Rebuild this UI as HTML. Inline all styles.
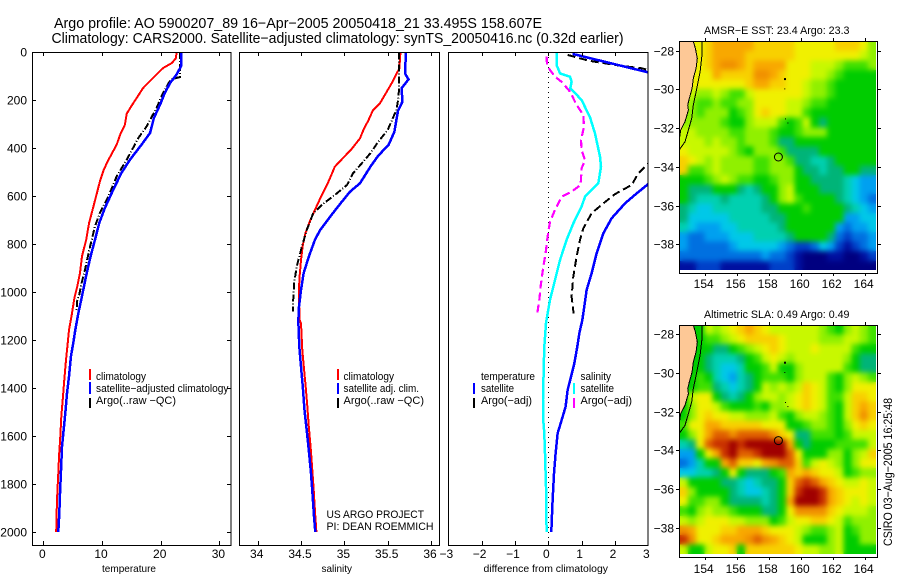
<!DOCTYPE html>
<html lang="en">
<head>
<meta charset="utf-8">
<title>Argo profile AO 5900207_89</title>
<style>
html,body{margin:0;padding:0;background:#fff;width:900px;height:580px;overflow:hidden}
svg{display:block}
text{font-family:"Liberation Sans",sans-serif;fill:#000}
.t12{font-size:12px}.t11{font-size:11px}.t10{font-size:10.5px}.t14{font-size:14.5px}
</style>
</head>
<body>
<svg id="chart" xmlns="http://www.w3.org/2000/svg" width="900" height="580" viewBox="0 0 900 580">
<defs>
<clipPath id="clip-diff"><rect x="448" y="52" width="200" height="494"/></clipPath>
<clipPath id="clip-map1"><rect x="679.5" y="41.5" width="198" height="232"/></clipPath>
<clipPath id="clip-map2"><rect x="679.5" y="325.5" width="198" height="232"/></clipPath>
<clipPath id="clip-cells1"><rect x="679.5" y="41.5" width="196.5" height="228.5"/></clipPath>
<clipPath id="clip-cells2"><rect x="679.5" y="325.5" width="196.5" height="228.5"/></clipPath>
<filter id="soften-cells" x="-5%" y="-5%" width="110%" height="110%" color-interpolation-filters="sRGB">
<feGaussianBlur in="SourceGraphic" stdDeviation="2.6" result="blurred"/>
<feMerge><feMergeNode in="SourceGraphic"/><feMergeNode in="blurred"/></feMerge>
</filter>
</defs>
<text class="t14" x="54" y="28" textLength="488" lengthAdjust="spacingAndGlyphs">Argo profile: AO 5900207_89 16−Apr−2005 20050418_21 33.495S 158.607E</text>
<text class="t14" x="51.5" y="43" textLength="572" lengthAdjust="spacingAndGlyphs">Climatology: CARS2000. Satellite−adjusted climatology: synTS_20050416.nc (0.32d earlier)</text>

<g id="panel-temp"></g>
<g id="panel-sal"></g>
<g id="panel-diff"></g>
<g id="map-sst"></g>
<g id="map-sla"></g>

<text class="t10" x="102" y="572" textLength="54" lengthAdjust="spacingAndGlyphs">temperature</text>
<text class="t10" x="321.5" y="572" textLength="30.5" lengthAdjust="spacingAndGlyphs">salinity</text>
<text class="t10" x="483.5" y="572" textLength="124.5" lengthAdjust="spacingAndGlyphs">difference from climatology</text>

<g>
<rect x="89" y="369" width="2" height="11" fill="#ff0000"/>
<rect x="89" y="382" width="2" height="12" fill="#0000ff"/>
<rect x="89" y="398" width="2" height="10" fill="#000"/>
<text class="t11" x="96" y="380" textLength="50" lengthAdjust="spacingAndGlyphs">climatology</text>
<text class="t11" x="96" y="392" textLength="132.5" lengthAdjust="spacingAndGlyphs">satellite−adjusted climatology</text>
<text class="t11" x="96" y="404" textLength="80" lengthAdjust="spacingAndGlyphs">Argo(..raw −QC)</text>
</g>

<g>
<rect x="337" y="369" width="2" height="11" fill="#ff0000"/>
<rect x="337" y="383" width="2" height="11" fill="#0000ff"/>
<rect x="337" y="398" width="2" height="10" fill="#000"/>
<text class="t11" x="343.5" y="380" textLength="50.5" lengthAdjust="spacingAndGlyphs">climatology</text>
<text class="t11" x="343.5" y="392" textLength="75.5" lengthAdjust="spacingAndGlyphs">satellite adj. clim.</text>
<text class="t11" x="343.5" y="404" textLength="80.5" lengthAdjust="spacingAndGlyphs">Argo(..raw −QC)</text>
<text class="t11" x="326.5" y="518" textLength="97.5" lengthAdjust="spacingAndGlyphs">US ARGO PROJECT</text>
<text class="t11" x="326.5" y="530" textLength="107" lengthAdjust="spacingAndGlyphs">PI: DEAN ROEMMICH</text>
</g>

<g>
<rect x="473" y="383" width="2" height="11" fill="#0000ff"/>
<rect x="473" y="398" width="2" height="10" fill="#000"/>
<rect x="573" y="383" width="2" height="11" fill="#00ffff"/>
<rect x="573" y="398" width="2" height="10" fill="#ff00ff"/>
<text class="t11" x="481" y="380" textLength="54" lengthAdjust="spacingAndGlyphs">temperature</text>
<text class="t11" x="481" y="392" textLength="33" lengthAdjust="spacingAndGlyphs">satellite</text>
<text class="t11" x="481" y="404" textLength="51" lengthAdjust="spacingAndGlyphs">Argo(−adj)</text>
<text class="t11" x="580.5" y="380" textLength="30.5" lengthAdjust="spacingAndGlyphs">salinity</text>
<text class="t11" x="580.5" y="392" textLength="33.5" lengthAdjust="spacingAndGlyphs">satellite</text>
<text class="t11" x="580.5" y="404" textLength="51.5" lengthAdjust="spacingAndGlyphs">Argo(−adj)</text>
</g>

<text class="t11" x="704" y="34" textLength="145.5" lengthAdjust="spacingAndGlyphs">AMSR−E SST: 23.4 Argo: 23.3</text>
<text class="t11" x="704" y="318" textLength="145.5" lengthAdjust="spacingAndGlyphs">Altimetric SLA: 0.49 Argo: 0.49</text>
<text class="t12" transform="translate(892,546) rotate(-90)" textLength="148" lengthAdjust="spacingAndGlyphs">CSIRO 03−Aug−2005 16:25:48</text>
</svg>

<script>
/* ---------- profile data: depth (m) and value ---------- */
const depthTicks = [0, 200, 400, 600, 800, 1000, 1200, 1400, 1600, 1800, 2000];
const tempTicks = [0, 10, 20, 30];
const salTicks = [34, 34.5, 35, 35.5, 36];
const salTickLabels = ['34', '34.5', '35', '35.5', '36'];
const diffTicks = [-3, -2, -1, 0, 1, 2, 3];
const diffTickLabels = ['−3', '−2', '−1', '0', '1', '2', '3'];

const tempClimDepth = [0,25,46,67,108,150,192,226,257,303,344,386,449,490,539,601,657,712,782,851,921,976,1025,1096,1158,1214,1283,1366,1450,1519,1602,1686,1755,1839,1922,2000];
const tempClimValue = [22.7,22.6,21.9,20.4,18.7,17.0,15.9,15.0,14.2,13.9,13.1,12.5,11.1,10.3,9.65,9.0,8.4,7.8,7.3,6.6,6.25,5.8,5.3,4.83,4.37,4.15,3.86,3.58,3.3,3.07,2.9,2.67,2.56,2.39,2.27,2.2];

const tempSatDepth = [0,60,94,129,171,219,275,337,386,449,504,574,650,712,782,851,935,1025,1089,1158,1214,1269,1352,1422,1505,1589,1644,1755,1839,1922,2000];
const tempSatValue = [23.45,23.45,22.7,21.6,20.7,19.9,18.85,18.2,16.75,14.76,13.3,11.9,10.5,9.54,8.8,8.06,7.27,6.53,5.96,5.45,5.1,4.7,4.37,4.03,3.75,3.4,3.18,3.0,2.84,2.73,2.56];

const tempArgoDepth = [0,60,104,115,171,233,310,358,449,518,601,671,726,824,907,963,1011,1033,1075];
const tempArgoValue = [23.3,23.3,23.3,21.7,20.4,19.3,17.6,16.2,14.2,12.5,11.1,9.65,8.8,7.84,7.1,6.53,6.13,5.8,5.68];

const salClimDepth = [3,68,130,165,214,242,283,325,360,406,447,478,512,554,596,658,707,756,804,867,950,1033,1117,1131,1242,1325,1395,1464,1561,1645,1742,1825,1909,2000];
const salClimValue = [35.646,35.635,35.546,35.49,35.41,35.33,35.28,35.22,35.18,35.08,34.97,34.89,34.85,34.8,34.74,34.66,34.6,34.55,34.52,34.5,34.48,34.477,34.485,34.5,34.515,34.535,34.554,34.57,34.59,34.61,34.63,34.646,34.66,34.677];

const salSatDepth = [3,89,114,151,207,244,283,332,387,432,478,547,582,624,679,742,783,853,922,992,1061,1114,1131,1228,1311,1395,1492,1575,1659,1756,1853,1936,2000];
const salSatValue = [35.71,35.7,35.74,35.66,35.67,35.62,35.6,35.577,35.51,35.39,35.3,35.18,35.065,34.97,34.85,34.72,34.66,34.59,34.53,34.5,34.477,34.47,34.47,34.48,34.5,34.52,34.54,34.565,34.59,34.615,34.635,34.65,34.665];

const salArgoDepth = [3,158,200,242,283,325,374,422,464,506,554,596,631,672,742,811,894,964,1033,1082];
const salArgoValue = [35.63,35.63,35.62,35.6,35.55,35.5,35.39,35.3,35.2,35.1,35.03,34.89,34.76,34.64,34.565,34.51,34.45,34.42,34.41,34.41];

const diffSalSatDepth = [3,54,89,103,124,151,200,272,339,436,478,547,603,644,714,783,867,950,1033,1114,1131,1228,1339,1450,1520,1589,1673,1811,2000];
const diffSalSatValue = [0.26,0.25,0.35,0.65,0.7,0.66,1.0,1.25,1.4,1.55,1.58,1.5,1.1,1.0,0.75,0.55,0.35,0.2,0.05,-0.05,-0.07,-0.12,-0.14,-0.16,-0.16,-0.12,-0.1,-0.07,-0.05];

const diffTempSatDepth = [8,85,150,300,450,550,589,631,693,756,839,922,992,1061,1117,1173,1228,1298,1353,1409,1478,1534,1589,1673,1756,1867,2000];
const diffTempSatValue = [0.73,3.0,4.2,4.8,4.2,3.0,2.65,2.3,1.9,1.65,1.45,1.3,1.15,1.08,1.02,0.93,0.87,0.78,0.68,0.58,0.52,0.4,0.28,0.22,0.17,0.13,0.09];

const diffTempArgoDepth = [12,36,54,68,75,150,300,475,506,554,592,631,672,735,783,853,936,1019,1089];
const diffTempArgoValue = [0.58,1.2,2.0,2.8,3.0,3.9,4.2,2.92,2.7,2.5,2.0,1.65,1.3,1.05,0.95,0.85,0.75,0.7,0.76];

const diffSalArgoDepth = [19,54,75,103,124,165,221,262,311,367,408,450,485,554,582,603,658,707,769,839,894,964,1033,1089];
const diffSalArgoValue = [-0.05,-0.04,0.05,0.2,0.4,0.65,0.85,1.05,1.07,0.98,1.0,1.1,1.0,0.97,0.7,0.4,0.2,0.05,-0.02,-0.08,-0.15,-0.22,-0.27,-0.33];

/* ---------- map data ---------- */
const mapLonTicks = [154, 156, 158, 160, 162, 164];
const sstLatTicks = [-28, -30, -32, -34, -36, -38];
const slaLatTicks = [-28, -30, -32, -34, -36, -38];
const coastLon = [153.29,153.42,153.54,153.46,153.29,153.21,153.04,152.94,152.98,152.77,152.5,152.44];
const coastLat = [-27.52,-27.88,-28.4,-28.91,-29.43,-29.95,-30.47,-30.81,-31.07,-31.67,-32.1,-32.45];
const isobathLon = [153.83,153.83,153.71,153.46,153.29,153.19,152.98,152.77,152.44];
const isobathLat = [-27.52,-28.22,-29.09,-30.12,-30.81,-31.5,-32.1,-32.71,-33.09];
const islandLon = [159.02,159.04,159.08,159.23];
const islandLat = [-29.47,-30.0,-31.55,-31.76];
const floatLon = [158.607];
const floatLat = [-33.495];

/* colour level per half-degree-ish cell, north to south */
const sstGrid = [
[12,12,12,13,14,14,14,14,14,13,13,13,13,13,12,12,12,12,12,13,13,13,12,10],
[12,12,12,13,14,14,14,14,13,13,13,13,13,13,12,12,12,12,12,12,12,12,11,10],
[12,12,12,13,14,15,15,14,13,14,14,14,14,12,12,12,11,11,11,10,9,9,9,10],
[12,12,12,12,14,13,13,13,13,15,15,14,13,12,12,12,11,11,10,9,8,8,8,8],
[12,12,12,12,12,12,12,12,13,14,14,13,13,12,12,11,10,10,9,8,8,8,8,8],
[11,11,10,10,11,10,9,9,11,12,12,12,12,12,12,11,10,10,9,8,8,8,8,8],
[11,10,9,9,10,9,9,10,10,12,12,12,12,11,11,10,9,9,8,8,8,8,8,8],
[10,10,9,10,10,10,8,9,10,12,13,12,12,11,11,9,8,8,8,8,8,8,8,8],
[10,10,10,10,10,9,8,8,10,11,11,11,9,8,9,11,8,7,8,8,8,8,8,8],
[11,11,10,10,10,10,9,9,10,10,10,9,8,8,9,10,10,10,8,8,8,8,8,8],
[11,11,11,10,11,10,10,9,10,10,10,9,7,7,8,8,8,8,8,8,8,8,8,8],
[12,11,11,11,11,11,10,9,8,10,10,10,9,7,7,7,7,8,8,8,8,8,8,8],
[13,12,11,10,11,10,10,10,10,9,9,10,10,9,7,7,6,6,7,8,8,8,8,8],
[13,9,9,10,11,10,10,10,10,9,9,10,10,10,8,7,7,6,7,7,8,8,7,7],
[8,8,8,9,10,11,10,9,9,8,8,9,10,10,8,8,7,7,7,7,6,5,4,4],
[8,7,7,7,8,8,8,7,6,7,8,8,10,11,8,8,8,7,7,7,6,5,4,4],
[8,7,6,6,6,7,6,6,6,6,7,8,10,11,9,8,8,8,8,7,6,5,4,3],
[7,6,5,5,6,6,6,6,6,6,7,7,8,8,8,9,8,8,8,8,7,6,5,4],
[7,5,5,5,5,5,6,6,6,6,6,7,7,8,8,8,8,8,8,8,4,4,5,5],
[6,5,4,4,4,5,5,6,6,6,6,6,7,8,8,8,8,8,8,4,3,4,4,5],
[4,3,3,4,4,4,5,5,5,6,6,6,6,7,8,8,8,8,7,3,2,3,3,4],
[4,3,3,3,3,3,4,5,5,5,5,5,4,3,2,2,3,5,4,2,1,2,3,4],
[3,3,3,3,3,3,3,3,3,3,4,3,3,2,1,0,0,0,1,1,0,0,1,2],
[1,1,2,2,2,1,1,1,1,1,1,2,2,2,1,0,0,0,0,0,0,0,0,0]
];
const slaGrid = [
[8,8,8,11,10,11,12,13,14,13,12,11,11,11,11,11,11,10,9,8,10,11,10,9],
[8,8,8,9,9,10,11,12,13,13,13,13,12,11,11,11,11,10,10,10,11,11,10,9],
[8,8,8,8,7,7,8,9,10,11,12,13,12,11,11,11,12,11,11,11,11,9,8,8],
[8,8,8,7,6,6,6,7,8,9,11,12,11,10,11,11,11,11,11,11,10,8,7,7],
[8,8,8,7,6,5,5,6,8,8,9,11,8,8,10,11,11,11,11,11,9,8,7,7],
[8,8,9,8,6,5,4,6,7,8,9,9,9,8,10,11,11,11,9,8,10,11,10,9],
[8,8,9,9,7,6,5,6,7,8,11,10,11,10,11,13,12,11,9,8,10,12,12,12],
[8,11,12,12,8,7,6,7,8,10,11,11,10,11,12,13,12,11,9,9,11,13,13,12],
[8,10,12,12,11,9,8,8,8,9,8,10,10,11,12,13,12,11,9,8,11,13,14,13],
[8,10,12,13,12,12,11,11,10,10,10,11,9,8,10,11,11,10,9,8,11,13,15,13],
[9,12,12,14,14,13,13,13,13,13,12,12,12,8,8,9,10,10,9,8,10,12,13,12],
[8,10,12,14,16,16,15,16,16,16,16,15,13,12,7,7,9,9,9,8,9,11,11,11],
[6,7,12,16,17,17,18,17,18,18,18,18,18,14,8,7,8,8,8,9,9,9,9,11],
[4,4,8,12,14,17,18,16,16,17,18,18,18,16,12,8,8,8,10,10,8,10,11,13],
[3,4,6,8,8,14,16,13,13,12,14,15,16,16,13,9,11,12,11,10,8,10,12,12],
[5,5,6,6,7,8,12,8,7,7,7,8,9,14,13,14,13,12,12,11,8,9,10,10],
[11,8,8,8,8,7,7,6,5,6,7,7,8,13,16,17,16,14,13,12,11,11,12,11],
[13,10,8,8,8,8,7,6,5,5,6,7,8,13,17,18,18,17,14,13,12,12,12,11],
[12,9,9,10,10,8,7,7,7,7,6,7,8,14,18,18,18,17,14,13,12,11,12,11],
[9,8,10,11,10,10,9,8,8,8,7,7,8,12,15,15,15,15,13,12,11,11,11,10],
[11,10,11,12,12,12,11,11,10,10,10,8,9,11,12,12,13,13,12,11,9,10,10,10],
[15,14,12,12,12,13,13,14,14,14,13,12,12,12,11,10,9,9,10,11,8,9,10,10],
[17,15,12,12,13,14,14,14,15,16,15,14,13,12,11,8,8,8,10,11,8,8,10,10],
[11,8,8,11,12,12,13,8,13,13,13,13,13,13,12,11,11,10,10,11,8,8,8,8]
];

/* ---------- axis functions ---------- */
const SVGNS = 'http://www.w3.org/2000/svg';
const depthToY = d => 52 + 0.24 * d;
const tempToX = t => 43.3 + 5.87 * t;
const salToX = s => 257.7 + 86.67 * (s - 34);
const diffToX = v => 548.3 + 33.33 * v;
const lonToX = lon => 704.7 + 16 * (lon - 154);
const sstLatToY = lat => 50.7 + 19.35 * (-28 - lat);
const slaLatToY = lat => 334.3 + 19.35 * (-28 - lat);

function make(parent, tag, attrs, text) {
  const el = document.createElementNS(SVGNS, tag);
  for (const k in attrs) el.setAttribute(k, attrs[k]);
  if (text !== undefined) el.textContent = text;
  parent.appendChild(el);
  return el;
}

function drawSeries(parent, name, xs, ds, xFn, color, width, dash, clip) {
  const pts = xs.map((v, i) => xFn(v).toFixed(1) + ',' + depthToY(ds[i]).toFixed(1)).join(' ');
  const el = make(parent, 'polyline', {points: pts, fill: 'none', stroke: color, 'stroke-width': width, 'shape-rendering': 'crispEdges'});
  
  
  if (dash) el.setAttribute('stroke-dasharray', dash);
  if (clip) el.setAttribute('clip-path', clip);
  return el;
}

function drawTick(parent, name, x1, y1, x2, y2) {
  const el = make(parent, 'line', {x1: x1, y1: y1, x2: x2, y2: y2, stroke: '#000', 'stroke-width': 1, 'shape-rendering': 'crispEdges'});
  
  
}

function drawLabel(parent, name, x, y, anchor, cls, str) {
  const el = make(parent, 'text', {x: x, y: y, 'text-anchor': anchor, 'class': cls}, str);
  
  
}

function drawFrame(parent, name, x, y, w, h) {
  const el = make(parent, 'rect', {x: x, y: y, width: w, height: h, fill: 'none', stroke: '#000', 'stroke-width': 1, 'shape-rendering': 'crispEdges'});
  
  
}

function drawXAxis(parent, ticks, labels, xFn, labelShift) {
  ticks.forEach((t, i) => {
    const x = Math.round(xFn(t)) + 0.5;
    if (x > parent.dataset.left && x < parent.dataset.right) {
      drawTick(parent, 'x-tick-top', x, 52, x, 56);
      drawTick(parent, 'x-tick-bottom', x, 541, x, 545);
    }
    drawLabel(parent, 'x-tick-label', xFn(t) + labelShift, 558, 'middle', 't12', labels[i]);
  });
}

/* ---------- temperature panel ---------- */
const panelTemp = document.getElementById('panel-temp');
panelTemp.dataset.left = 32;
panelTemp.dataset.right = 231;
drawSeries(panelTemp, 'temperature-climatology-line', tempClimValue, tempClimDepth, tempToX, '#ff0000', 2, null, null);
drawSeries(panelTemp, 'temperature-argo-line', tempArgoValue, tempArgoDepth, tempToX, '#000', 2, '7 2 1 2', null);
drawSeries(panelTemp, 'temperature-satellite-line', tempSatValue, tempSatDepth, tempToX, '#0000ff', 2.5, null, null);
drawFrame(panelTemp, 'temperature-plot-frame', 32.5, 52.5, 198.5, 493);
drawXAxis(panelTemp, tempTicks, tempTicks.map(String), tempToX, -1);
depthTicks.forEach(d => {
  const y = Math.round(depthToY(d)) + 0.5;
  if (d > 0) drawTick(panelTemp, 'y-tick-left', 32, y, 36, y);
  if (d > 0) drawTick(panelTemp, 'y-tick-right', 227, y, 231, y);
  drawLabel(panelTemp, 'y-tick-label', 27, y + 4, 'end', 't12', String(d));
});

/* ---------- salinity panel ---------- */
const panelSal = document.getElementById('panel-sal');
panelSal.dataset.left = 239;
panelSal.dataset.right = 440;
drawSeries(panelSal, 'salinity-climatology-line', salClimValue, salClimDepth, salToX, '#ff0000', 2, null, null);
drawSeries(panelSal, 'salinity-satellite-line', salSatValue, salSatDepth, salToX, '#0000ff', 2.5, null, null);
drawSeries(panelSal, 'salinity-argo-line', salArgoValue, salArgoDepth, salToX, '#000', 2, '7 2 1 2', null);
drawFrame(panelSal, 'salinity-plot-frame', 239.5, 52.5, 200, 493);
drawXAxis(panelSal, salTicks, salTickLabels, salToX, -1);

/* ---------- difference panel ---------- */
const panelDiff = document.getElementById('panel-diff');
panelDiff.dataset.left = 449;
panelDiff.dataset.right = 648;
const zeroLine = make(panelDiff, 'line', {x1: 548.5, y1: 52, x2: 548.5, y2: 545, stroke: '#000', 'stroke-width': 1, 'stroke-dasharray': '1 4', 'shape-rendering': 'crispEdges'});


drawSeries(panelDiff, 'diff-salinity-satellite-line', diffSalSatValue, diffSalSatDepth, diffToX, '#00ffff', 2.5, null, 'url(#clip-diff)');
drawSeries(panelDiff, 'diff-temperature-argo-line', diffTempArgoValue, diffTempArgoDepth, diffToX, '#000', 2, '8 4', 'url(#clip-diff)');
drawSeries(panelDiff, 'diff-salinity-argo-line', diffSalArgoValue, diffSalArgoDepth, diffToX, '#ff00ff', 2.2, '8 4', 'url(#clip-diff)');
drawSeries(panelDiff, 'diff-temperature-satellite-line', diffTempSatValue, diffTempSatDepth, diffToX, '#0000ff', 2.5, null, 'url(#clip-diff)');
drawFrame(panelDiff, 'difference-plot-frame', 448.5, 52.5, 199.5, 493);
drawXAxis(panelDiff, diffTicks, diffTickLabels, diffToX, -2);

/* ---------- maps ---------- */
const levelColors = ['#000080','#0010a0','#0040c8','#0070e0','#00a0f0','#00c8e8','#00d0b0','#00b478','#00cc00','#40e000','#90f000','#c8f800','#f0f000','#f8d000','#f8a800','#f09000','#e06000','#c83000','#a00000'];
const GRID_LON0 = 152.44, GRID_DLON = 12.27 / 24, GRID_LAT0 = -27.52, GRID_DLAT = 11.83 / 24;

function drawMap(group, prefix, grid, latToY, latTicks, clipId, cellClipId, top, labelY) {
  const cellClip = make(group, 'g', {'clip-path': 'url(#' + cellClipId + ')'});
  
  
  const cellLayer = make(cellClip, 'g', {filter: 'url(#soften-cells)'});
  
  
  grid.forEach((row, r) => {
    row.forEach((level, c) => {
      const x0 = lonToX(GRID_LON0 + c * GRID_DLON);
      const x1 = lonToX(GRID_LON0 + (c + 1) * GRID_DLON);
      const y0 = latToY(GRID_LAT0 - r * GRID_DLAT);
      const y1 = latToY(GRID_LAT0 - (r + 1) * GRID_DLAT);
      const cell = make(cellLayer, 'rect', {x: x0.toFixed(1), y: y0.toFixed(1), width: (x1 - x0 + 0.6).toFixed(1), height: (y1 - y0 + 0.6).toFixed(1), fill: levelColors[level], 'shape-rendering': 'crispEdges'});
      
      
    });
  });
  const clipUrl = 'url(#' + clipId + ')';
  const landPts = coastLon.map((lon, i) => lonToX(lon).toFixed(1) + ',' + latToY(coastLat[i]).toFixed(1));
  landPts.push(lonToX(152.0).toFixed(1) + ',' + latToY(-32.45).toFixed(1));
  landPts.push(lonToX(152.0).toFixed(1) + ',' + latToY(-27.0).toFixed(1));
  landPts.push(lonToX(153.29).toFixed(1) + ',' + latToY(-27.0).toFixed(1));
  const land = make(group, 'polygon', {points: landPts.join(' '), fill: '#fdc896', 'clip-path': clipUrl});
  
  
  const coast = make(group, 'polyline', {points: coastLon.map((lon, i) => lonToX(lon).toFixed(1) + ',' + latToY(coastLat[i]).toFixed(1)).join(' '), fill: 'none', stroke: '#000', 'stroke-width': 1, 'clip-path': clipUrl, 'shape-rendering': 'crispEdges'});
  
  
  const iso = make(group, 'polyline', {points: isobathLon.map((lon, i) => lonToX(lon).toFixed(1) + ',' + latToY(isobathLat[i]).toFixed(1)).join(' '), fill: 'none', stroke: '#000', 'stroke-width': 1, 'clip-path': clipUrl, 'shape-rendering': 'crispEdges'});
  
  
  islandLon.forEach((lon, i) => {
    const dot = make(group, 'rect', {x: (lonToX(lon) - 1).toFixed(1), y: (latToY(islandLat[i]) - 1).toFixed(1), width: i === 0 ? 2 : 1, height: i === 0 ? 2 : 1, fill: '#000'});
    
    
  });
  floatLon.forEach((lon, i) => {
    const mark = make(group, 'circle', {cx: lonToX(lon).toFixed(1), cy: latToY(floatLat[i]).toFixed(1), r: 4, fill: 'none', stroke: '#000', 'stroke-width': 1});
    
    
  });
  drawFrame(group, prefix + '-frame', 679.5, top + 0.5, 198, 232);
  mapLonTicks.forEach(lon => {
    const x = Math.round(lonToX(lon)) + 0.5;
    drawTick(group, prefix + '-lon-tick-top', x, top - 3, x, top);
    drawTick(group, prefix + '-lon-tick-bottom', x, top + 232, x, top + 235);
    drawLabel(group, prefix + '-lon-label', lonToX(lon) - 1, labelY, 'middle', 't12', String(lon));
  });
  latTicks.forEach(lat => {
    const y = Math.round(latToY(lat)) + 0.5;
    drawTick(group, prefix + '-lat-tick-left', 676, y, 679, y);
    drawTick(group, prefix + '-lat-tick-right', 878, y, 881, y);
    drawLabel(group, prefix + '-lat-label', 674, y + 4, 'end', 't12', '−' + Math.abs(lat));
  });
}

drawMap(document.getElementById('map-sst'), 'sst-map', sstGrid, sstLatToY, sstLatTicks, 'clip-map1', 'clip-cells1', 41, 288);
drawMap(document.getElementById('map-sla'), 'sla-map', slaGrid, slaLatToY, slaLatTicks, 'clip-map2', 'clip-cells2', 325, 573);
</script>
</body>
</html>
